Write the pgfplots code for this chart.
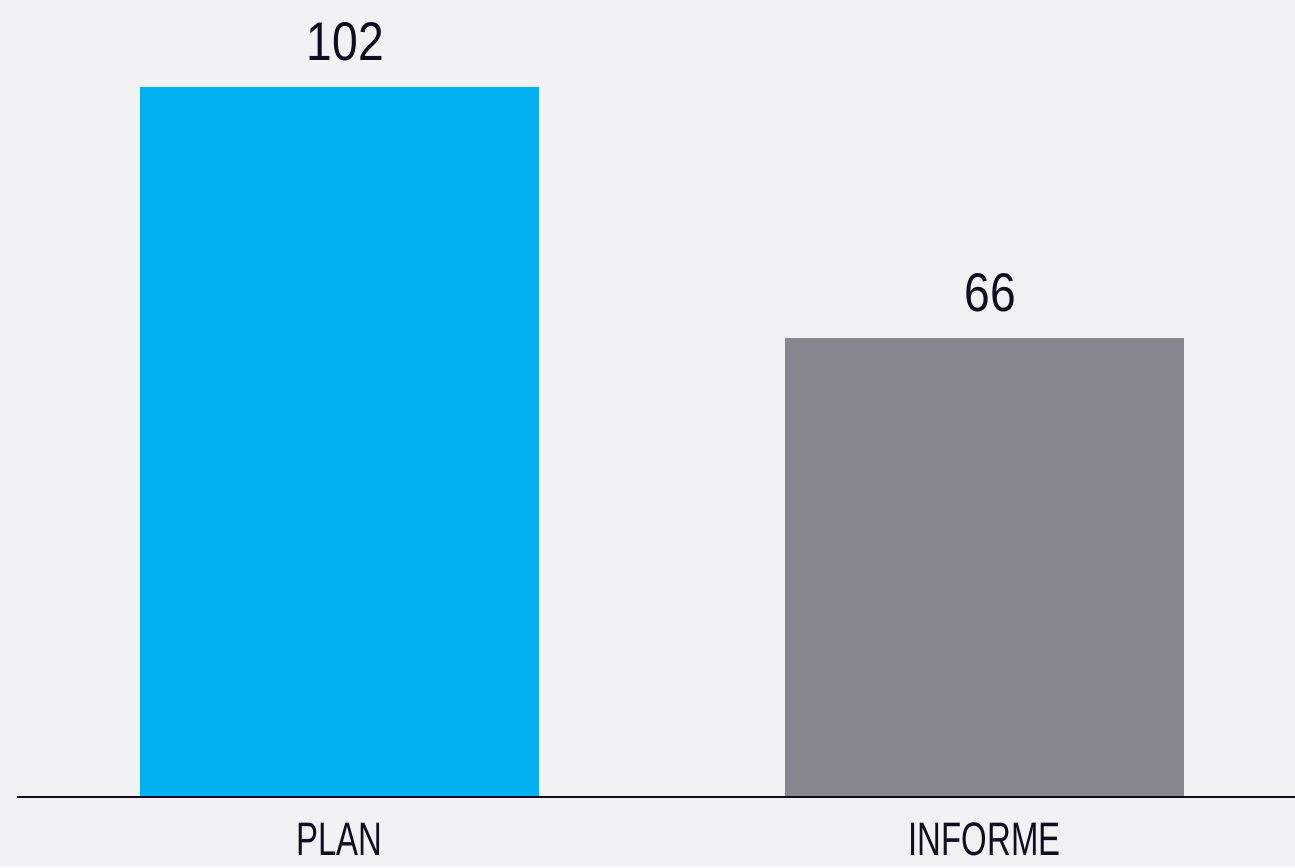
\documentclass[border=0pt]{standalone}
\usepackage{pgfplots}
\pgfplotsset{compat=1.18}
\usepackage{fontspec}
\setmainfont{Liberation Sans}
\newfontfamily\valfont[FakeStretch=0.85]{Liberation Sans}
\newfontfamily\labfont[FakeStretch=0.70]{Liberation Sans}
\definecolor{bgc}{HTML}{F2F2F5}
\definecolor{cyanbar}{HTML}{00B0F0}
\definecolor{graybar}{HTML}{878792}
\definecolor{ink}{HTML}{0E0E20}
\begin{document}
\begin{tikzpicture}
\begin{axis}[
  scale only axis, width=647.5pt, height=433.5pt,
  xmin=-0.5264, xmax=1.4814, ymin=-10.06, ymax=114.5,
  axis background/.style={fill=bgc},
  axis line style={draw=none},
  ymajorticks=false,
  xtick={0,1}, xticklabels={PLAN,INFORME},
  major tick length=0pt,
  xticklabel style={anchor=base, inner sep=0pt, yshift=5.5pt, font=\labfont\fontsize{23.5}{23.5}\selectfont, text=ink},
  /pgf/number format/assume math mode=true,
  ybar, bar width=0.6186, bar shift=0pt,
  nodes near coords,
  every node near coord/.append style={anchor=base, yshift=13pt, xshift=3pt, font=\valfont\fontsize{27.2}{27.2}\selectfont, text=ink},
  clip=false,
]
\addplot[draw=none, fill=cyanbar] coordinates {(0,102)};
\addplot[draw=none, fill=graybar] coordinates {(1,66)};
\draw[ink, line width=1.2pt] (axis cs:-0.5,0) -- (axis cs:1.4814,0);
\end{axis}
\pgfresetboundingbox
\path (current axis.south west) rectangle (current axis.north east);
\end{tikzpicture}
\end{document}
